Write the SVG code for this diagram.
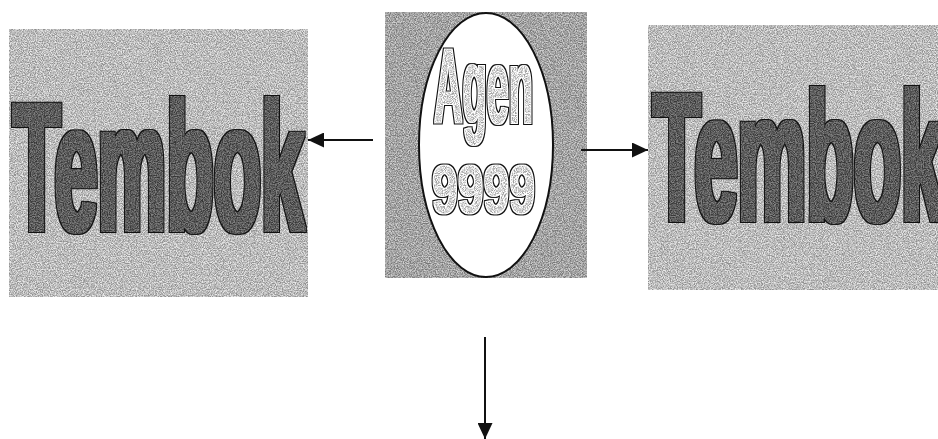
<svg xmlns="http://www.w3.org/2000/svg" width="938" height="439" viewBox="0 0 938 439">
  <style>
    .wall { fill: #bcbcbc; }
    .agent-bg { fill: #a4a4a4; }
    .big { font-family: "Liberation Sans", Arial, sans-serif; font-weight: bold; fill: #000; }
    .wall-type { filter: url(#wallType); }
    .agent-type { filter: url(#agentType); }
    .link { stroke: #111; stroke-width: 2; fill: none; }
  </style>
  <defs>
    <!-- speckled stucco texture laid over a flat fill -->
    <filter id="grain" x="0" y="0" width="100%" height="100%" color-interpolation-filters="sRGB">
      <feTurbulence type="fractalNoise" baseFrequency="0.85" numOctaves="2" seed="7" result="noise"/>
      <feColorMatrix in="noise" type="matrix" values="2.4 0 0 0 -0.7  2.4 0 0 0 -0.7  2.4 0 0 0 -0.7  0 0 0 0 1" result="gray"/>
      <feComposite in="SourceGraphic" in2="gray" operator="arithmetic" k1="0" k2="1" k3="0.35" k4="-0.175" result="mix"/>
      <feComposite in="mix" in2="SourceAlpha" operator="in"/>
    </filter>
    <!-- heavy dark lettering with a thin black rim -->
    <filter id="wallType" x="-5%" y="-5%" width="110%" height="110%" color-interpolation-filters="sRGB">
      <feMorphology in="SourceAlpha" operator="dilate" radius="3" result="outer"/>
      <feMorphology in="SourceAlpha" operator="dilate" radius="1.6" result="inner"/>
      <feTurbulence type="fractalNoise" baseFrequency="0.85" numOctaves="2" seed="11" result="noise"/>
      <feColorMatrix in="noise" type="matrix" values="2.4 0 0 0 -0.7  2.4 0 0 0 -0.7  2.4 0 0 0 -0.7  0 0 0 0 1" result="gray"/>
      <feFlood flood-color="#5c5c5c" result="base"/>
      <feComposite in="base" in2="gray" operator="arithmetic" k1="0" k2="1" k3="0.3" k4="-0.15" result="tex"/>
      <feComposite in="tex" in2="inner" operator="in" result="face"/>
      <feFlood flood-color="#111111" result="ink"/>
      <feComposite in="ink" in2="outer" operator="in" result="edge"/>
      <feMerge><feMergeNode in="edge"/><feMergeNode in="face"/></feMerge>
    </filter>
    <!-- light speckled lettering: black rim, white inner rim -->
    <filter id="agentType" x="-8%" y="-8%" width="116%" height="116%" color-interpolation-filters="sRGB">
      <feMorphology in="SourceAlpha" operator="dilate" radius="2" result="outer"/>
      <feMorphology in="SourceAlpha" operator="dilate" radius="1" result="halo"/>
      <feTurbulence type="fractalNoise" baseFrequency="0.9" numOctaves="2" seed="5" result="noise"/>
      <feColorMatrix in="noise" type="matrix" values="2.4 0 0 0 -0.7  2.4 0 0 0 -0.7  2.4 0 0 0 -0.7  0 0 0 0 1" result="gray"/>
      <feFlood flood-color="#d6d6d6" result="base"/>
      <feComposite in="base" in2="gray" operator="arithmetic" k1="0" k2="1" k3="0.45" k4="-0.225" result="tex"/>
      <feComposite in="tex" in2="SourceAlpha" operator="in" result="face"/>
      <feFlood flood-color="#ffffff" result="white"/>
      <feComposite in="white" in2="halo" operator="in" result="rim"/>
      <feFlood flood-color="#111111" result="ink"/>
      <feComposite in="ink" in2="outer" operator="in" result="edge"/>
      <feMerge><feMergeNode in="edge"/><feMergeNode in="rim"/><feMergeNode in="face"/></feMerge>
    </filter>
    <marker id="head" viewBox="0 0 16 15" refX="16" refY="7.5" markerWidth="16" markerHeight="15" markerUnits="userSpaceOnUse" orient="auto">
      <path d="M0,0 L16,7.5 L0,15 Z" fill="#111"/>
    </marker>
  </defs>

  <!-- left wall -->
  <g id="wall-left">
    <rect class="wall" x="9" y="29" width="299" height="268" filter="url(#grain)"/>
    <text class="big wall-type" x="13" y="230" font-size="182" textLength="291" lengthAdjust="spacingAndGlyphs">Tembok</text>
  </g>

  <!-- agent in the middle -->
  <g id="agent">
    <rect class="agent-bg" x="385" y="12" width="202" height="266" filter="url(#grain)"/>
    <ellipse cx="486" cy="145" rx="67" ry="132" fill="#ffffff" stroke="#111" stroke-width="2"/>
    <text class="big agent-type" x="434" y="123" font-size="106" textLength="99" lengthAdjust="spacingAndGlyphs">Agen</text>
    <text class="big agent-type" x="432" y="213" font-size="69" textLength="103" lengthAdjust="spacingAndGlyphs">9999</text>
  </g>

  <!-- right wall -->
  <g id="wall-right">
    <rect class="wall" x="648" y="25" width="290" height="265" filter="url(#grain)"/>
    <text class="big wall-type" x="653" y="220" font-size="182" textLength="291" lengthAdjust="spacingAndGlyphs">Tembok</text>
  </g>

  <!-- connectors -->
  <g id="connectors">
    <line class="link" x1="373" y1="140" x2="308" y2="140" marker-end="url(#head)"/>
    <line class="link" x1="581" y1="150" x2="648" y2="150" marker-end="url(#head)"/>
    <line class="link" x1="485" y1="337" x2="485" y2="439" marker-end="url(#head)"/>
  </g>
</svg>
